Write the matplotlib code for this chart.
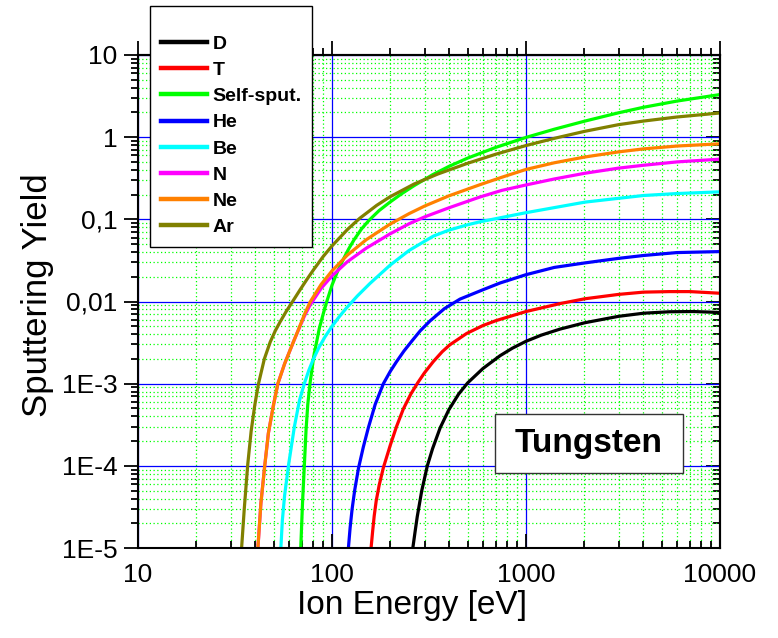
import matplotlib
matplotlib.use("Agg")
import matplotlib.pyplot as plt
from matplotlib.ticker import FixedLocator, FixedFormatter, LogLocator, NullFormatter
from matplotlib.patches import Rectangle

plt.rcParams['font.family'] = ['Liberation Sans', 'DejaVu Sans']

# Sputtering yield of tungsten vs. ion energy (eV)
E_D = [261, 268, 275, 290, 310, 330, 361, 400, 450, 500, 600, 735, 850, 1000, 1200, 1500, 2014, 3000, 4030,
       5500, 7280, 10000]
Y_D = [1.0e-5, 1.57e-5, 2.4e-5, 4.95e-5, 1.0e-4, 1.62e-4, 2.9e-4, 4.8e-4, 7.5e-4, 1.02e-3, 1.53e-3, 2.19e-3,
       2.7e-3, 3.28e-3, 3.9e-3, 4.62e-3, 5.52e-3, 6.6e-3, 7.2e-3, 7.5e-3, 7.55e-3, 7.35e-3]

E_T = [159, 162, 165, 169, 175, 184, 200, 215, 233, 255, 277, 300, 333, 370, 405, 494, 600, 700, 1000, 1500,
       2014, 3000, 4030, 5500, 7000, 10000]
Y_T = [1.0e-5, 1.6e-5, 2.45e-5, 3.75e-5, 5.8e-5, 9.5e-5, 1.8e-4, 3.0e-4, 4.9e-4, 7.5e-4, 1.03e-3, 1.36e-3,
       1.86e-3, 2.45e-3, 2.97e-3, 4.08e-3, 5.1e-3, 5.85e-3, 7.55e-3, 9.44e-3, 1.08e-2, 1.22e-2, 1.3e-2,
       1.32e-2, 1.32e-2, 1.26e-2]

E_self = [69, 70.5, 72, 73.5, 75, 77, 80.5, 86, 90, 94, 100, 107, 115, 122, 130, 142, 155, 175, 199, 230, 265,
          330, 400, 500, 700, 1000, 1400, 2014, 3000, 4030, 6000, 10000]
Y_self = [1.0e-5, 3.6e-5, 1.0e-4, 2.74e-4, 5.56e-4, 1.0e-3, 2.14e-3, 4.7e-3, 7.0e-3, 1.0e-2, 1.58e-2, 2.35e-2,
          3.35e-2, 4.38e-2, 5.65e-2, 7.65e-2, 9.7e-2, 0.128, 0.162, 0.207, 0.257, 0.349, 0.44, 0.556, 0.752,
          0.993, 1.25, 1.57, 1.98, 2.31, 2.75, 3.30]

E_He = [121.5, 124, 127, 131, 137, 145, 154, 167, 184, 200, 215, 235, 258, 285, 320, 380, 457, 600, 735, 1000,
        1400, 2014, 3000, 4030, 6000, 10000]
Y_He = [1.0e-5, 1.77e-5, 3.0e-5, 5.1e-5, 9.4e-5, 1.69e-4, 2.92e-4, 5.6e-4, 1.0e-3, 1.42e-3, 1.85e-3, 2.5e-3,
        3.3e-3, 4.4e-3, 5.8e-3, 8.2e-3, 1.07e-2, 1.39e-2, 1.68e-2, 2.12e-2, 2.6e-2, 2.95e-2, 3.35e-2,
        3.63e-2, 3.94e-2, 4.05e-2]

E_Be = [54.5, 55.5, 57, 59.8, 64, 68, 72, 76, 80, 86, 92, 100, 109, 119, 135, 157, 199, 250, 333, 400, 500,
        579, 1000, 2014, 4030, 6000, 10000]
Y_Be = [1.0e-5, 2.2e-5, 4.4e-5, 1.05e-4, 3.0e-4, 6.28e-4, 1.0e-3, 1.46e-3, 1.97e-3, 2.81e-3, 3.71e-3, 4.98e-3,
        6.53e-3, 8.39e-3, 1.165e-2, 1.66e-2, 2.76e-2, 4.19e-2, 6.25e-2, 7.38e-2, 8.59e-2, 9.33e-2, 0.1205,
        0.162, 0.195, 0.206, 0.216]

E_N = [41.5, 43, 45, 47, 50, 52.6, 57, 63.5, 67, 72, 77, 88, 100, 120, 150, 199, 250, 300, 400, 579, 750, 1000,
       1400, 2014, 3000, 4030, 6000, 10000]
Y_N = [1.0e-5, 3.5e-5, 1.0e-4, 2.5e-4, 5.6e-4, 1.0e-3, 1.75e-3, 3.3e-3, 4.45e-3, 6.6e-3, 9.0e-3, 1.45e-2,
       2.05e-2, 3.05e-2, 4.45e-2, 6.65e-2, 8.85e-2, 0.107, 0.138, 0.187, 0.225, 0.262, 0.31, 0.364, 0.42,
       0.455, 0.5, 0.54]

E_Ne = [41.5, 43, 45, 47, 50, 52.6, 57, 63.5, 67, 72, 77, 88, 100, 120, 150, 199, 250, 300, 400, 579, 750, 1000,
        1400, 2014, 3000, 4030, 6000, 10000]
Y_Ne = [1.0e-5, 3.5e-5, 1.0e-4, 2.5e-4, 5.6e-4, 1.0e-3, 1.75e-3, 3.3e-3, 4.5e-3, 6.9e-3, 9.8e-3, 1.62e-2,
        2.36e-2, 3.67e-2, 5.64e-2, 8.74e-2, 0.1175, 0.145, 0.193, 0.264, 0.325, 0.405, 0.488, 0.574, 0.662,
        0.72, 0.78, 0.83]

E_Ar = [34.2, 35.3, 36.8, 38.3, 40, 41.8, 44.8, 48, 51, 54, 58, 63, 68.4, 74, 80, 90, 100, 120, 139, 170, 199,
        265, 350, 500, 700, 1000, 1400, 2014, 3000, 4030, 6000, 10000]
Y_Ar = [1.0e-5, 3.0e-5, 1.05e-4, 2.64e-4, 5.5e-4, 1.0e-3, 2.0e-3, 3.2e-3, 4.4e-3, 5.64e-3, 7.54e-3, 1.02e-2,
        1.384e-2, 1.836e-2, 2.4e-2, 3.52e-2, 4.75e-2, 7.51e-2, 0.103, 0.148, 0.188, 0.269, 0.355, 0.481,
        0.621, 0.791, 0.968, 1.18, 1.42, 1.57, 1.76, 1.97]

labels = ['D', 'T', 'Self-sput.', 'He', 'Be', 'N', 'Ne', 'Ar']
colors = ['#000000', '#ff0000', '#00ff00', '#0000ff', '#00ffff', '#ff00ff', '#ff8000', '#808000']
series = [(E_D, Y_D), (E_T, Y_T), (E_self, Y_self), (E_He, Y_He),
          (E_Be, Y_Be), (E_N, Y_N), (E_Ne, Y_Ne), (E_Ar, Y_Ar)]

x_ticks = [10, 100, 1000, 10000]
x_ticklabels = ['10', '100', '1000', '10000']
y_ticks = [1e-5, 1e-4, 1e-3, 1e-2, 1e-1, 1, 10]
y_ticklabels = ['1E-5', '1E-4', '1E-3', '0,01', '0,1', '1', '10']

fig = plt.figure(figsize=(7.78, 6.38), dpi=100)
ax = fig.add_axes([138 / 778, 90 / 638, 582 / 778, 493 / 638])

lines = []
for (e, y), lab, c in zip(series, labels, colors):
    ln, = ax.plot(e, y, color=c, lw=2.3, label=lab, solid_joinstyle='round')
    lines.append(ln)

ax.set_xscale('log')
ax.set_yscale('log')
ax.set_xlim(10, 10000)
ax.set_ylim(1e-5, 10)

ax.xaxis.set_major_locator(FixedLocator(x_ticks))
ax.xaxis.set_major_formatter(FixedFormatter(x_ticklabels))
ax.yaxis.set_major_locator(FixedLocator(y_ticks))
ax.yaxis.set_major_formatter(FixedFormatter(y_ticklabels))
for axis in (ax.xaxis, ax.yaxis):
    axis.set_minor_locator(LogLocator(base=10, subs=range(2, 10), numticks=20))
    axis.set_minor_formatter(NullFormatter())

ax.set_axisbelow(True)
ax.grid(which='minor', color='#00ff00', lw=0.9, ls=(0, (1, 2)))
ax.grid(which='major', color='#0000ff', lw=0.9)

for sp in ax.spines.values():
    sp.set_linewidth(1.5)

ax.tick_params(axis='x', which='both', direction='in', top=False, labelsize=19, pad=11, width=1.3)
ax.tick_params(axis='y', which='both', direction='out', right=False, labelsize=19, pad=5, width=1.3)
ax.tick_params(which='major', length=10)
ax.tick_params(which='minor', length=5)

# ticks on the top (outward) and right (inward) sides
top = ax.secondary_xaxis('top')
top.xaxis.set_major_locator(FixedLocator(x_ticks))
top.xaxis.set_minor_locator(LogLocator(base=10, subs=range(2, 10), numticks=20))
top.tick_params(which='both', direction='out', labeltop=False, width=1.3)
top.tick_params(which='major', length=10)
top.tick_params(which='minor', length=5)
top.spines['top'].set_linewidth(1.5)

right = ax.secondary_yaxis('right')
right.yaxis.set_major_locator(FixedLocator(y_ticks))
right.yaxis.set_minor_locator(LogLocator(base=10, subs=range(2, 10), numticks=20))
right.tick_params(which='both', direction='in', labelright=False, width=1.3)
right.tick_params(which='major', length=10)
right.tick_params(which='minor', length=5)
right.spines['right'].set_linewidth(1.5)

ax.set_xlabel('Ion Energy [eV]', fontsize=24)
ax.set_ylabel('Sputtering Yield', fontsize=25)
ax.xaxis.set_label_coords(0.471, -0.085)
ax.yaxis.set_label_coords(-0.145, 0.512)

leg = ax.legend(handles=lines, loc='upper left', bbox_to_anchor=(0.0206, 1.0994),
                borderaxespad=0, prop={'weight': 'bold', 'size': 14},
                handlelength=2.4, handletextpad=0.27, labelspacing=0.44,
                borderpad=0.55, fancybox=False, framealpha=1, edgecolor='black',
                title=' ', title_fontsize=7)
leg.get_frame().set_linewidth(1.0)
for h in leg.get_lines():
    h.set_linewidth(3.2)

# label box for the target material
ax.add_patch(Rectangle((0.6134, 0.1521), 0.323, 0.1197, transform=ax.transAxes,
                       facecolor='white', edgecolor='#333333', lw=1.0, zorder=6))
ax.text(0.775, 0.212, 'Tungsten', transform=ax.transAxes, ha='center', va='center',
        fontsize=24, fontweight='bold', zorder=7)

fig.savefig('out.png', dpi=100)
